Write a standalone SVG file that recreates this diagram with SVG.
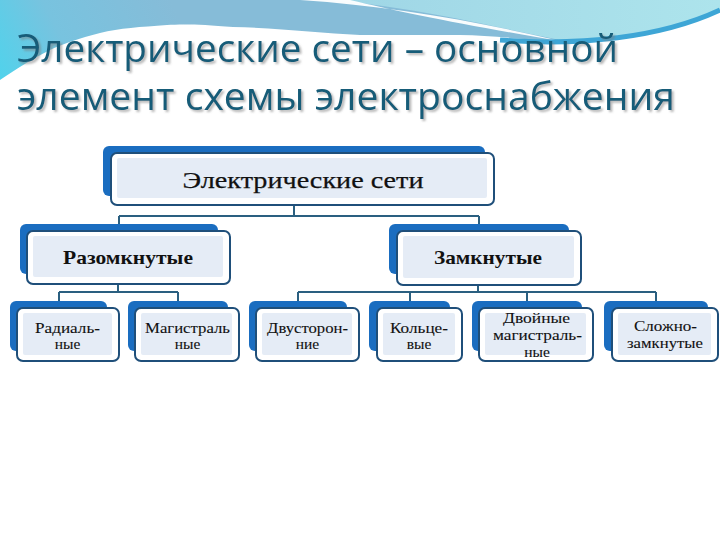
<svg xmlns="http://www.w3.org/2000/svg" width="720" height="540" viewBox="0 0 720 540">
  <defs>
    <linearGradient id="bgBlue" gradientUnits="userSpaceOnUse" x1="0" y1="85" x2="170" y2="0">
      <stop offset="0" stop-color="#4fd3ec"/>
      <stop offset="0.4" stop-color="#78c3df"/>
      <stop offset="1" stop-color="#86bcd8"/>
    </linearGradient>
    <linearGradient id="bgCyan" gradientUnits="userSpaceOnUse" x1="340" y1="0" x2="720" y2="0">
      <stop offset="0" stop-color="#9fd6e6"/>
      <stop offset="1" stop-color="#ade4ec"/>
    </linearGradient>
    <filter id="shadow" x="-5%" y="-20%" width="110%" height="150%">
      <feDropShadow dx="2" dy="2" stdDeviation="1" flood-color="#7a7a7a" flood-opacity="0.55"/>
    </filter>
    <style>
      .title { font-family: "Open Sans", "Noto Sans", "DejaVu Sans", sans-serif; font-size: 38px; fill: #165c78; }
      .back { fill: #1a6dc0; }
      .front { fill: #ffffff; stroke: #1f4f7a; stroke-width: 2; }
      .inner { fill: #e5ecf6; }
      .lbl { font-family: "Liberation Serif", "DejaVu Serif", serif; fill: #111111; text-anchor: middle; }
      .l1 { font-size: 24px; stroke: #111111; stroke-width: 0.25; }
      .l2 { font-size: 19px; font-weight: bold; }
      .l3 { font-size: 15.5px; stroke: #111111; stroke-width: 0.1; }
      .conn { fill: none; stroke: #2a5f80; stroke-width: 2; }
    </style>
  </defs>

  <!-- background -->
  <rect x="0" y="0" width="720" height="540" fill="#ffffff"/>
  <path d="M0,0 H720 V12 C680,28 620,40 560,40 C520,40 490,35 460,35 C420,35 390,35 360,35 C320,33 280,28 233,27 C200,24 180,24 167,25 C140,27 120,28 100,33 C80,38 60,45 50,50 C30,60 15,70 0,80 Z" fill="url(#bgBlue)"/>
  <path d="M330,0 H720 V12 C680,28 620,40 560,40 C490,26 420,8 330,0 Z" fill="url(#bgCyan)"/>
  <path d="M300,0 C390,6 470,20 560,41 C470,26 400,12 350,0 Z" fill="#ffffff" opacity="0.95"/>
  <path d="M500,40 C580,46 660,38 720,10" fill="none" stroke="#3ea6d6" stroke-width="5"/>

  <!-- title -->
  <g filter="url(#shadow)">
    <text class="title" x="17" y="62" textLength="601" lengthAdjust="spacingAndGlyphs">Электрические сети – основной</text>
    <text class="title" x="17" y="110" textLength="658" lengthAdjust="spacingAndGlyphs">элемент схемы электроснабжения</text>
  </g>

  <!-- connectors -->
  <g id="connectors">
    <path class="conn" d="M294,206 V216 M119,216 H479 M119,216 V224 M479,216 V224"/>
    <path class="conn" d="M118,285 V292 M59,292 H178 M59,292 V301 M178,292 V301"/>
    <path class="conn" d="M478,286 V292 M298,292 H656 M298,292 V301 M410,292 V301 M527,292 V301 M656,292 V301"/>
  </g>

  <!-- level 1 -->
  <g id="node-electric-networks">
    <rect class="back" x="103" y="146" width="382" height="50" rx="6"/>
    <rect class="front" x="111" y="153" width="383" height="52" rx="6"/>
    <rect class="inner" x="117" y="158" width="370" height="40" rx="2"/>
    <text class="lbl l1" x="303" y="188" textLength="241" lengthAdjust="spacingAndGlyphs">Электрические сети</text>
  </g>

  <!-- level 2 -->
  <g id="node-open">
    <rect class="back" x="20" y="224" width="198" height="50" rx="6"/>
    <rect class="front" x="27" y="231" width="203" height="53" rx="6"/>
    <rect class="inner" x="33" y="236" width="190" height="41" rx="2"/>
    <text class="lbl l2" x="128" y="264" textLength="130" lengthAdjust="spacingAndGlyphs">Разомкнутые</text>
  </g>
  <g id="node-closed">
    <rect class="back" x="389" y="224" width="180" height="50" rx="6"/>
    <rect class="front" x="397" y="231" width="184" height="54" rx="6"/>
    <rect class="inner" x="403" y="236" width="171" height="42" rx="2"/>
    <text class="lbl l2" x="488" y="264" textLength="108" lengthAdjust="spacingAndGlyphs">Замкнутые</text>
  </g>

  <!-- level 3 -->
  <g id="node-radial">
    <rect class="back" x="10" y="301" width="97" height="50" rx="6"/>
    <rect class="front" x="17" y="308" width="102" height="53" rx="6"/>
    <rect class="inner" x="23" y="313" width="89" height="42" rx="2"/>
    <text class="lbl l3" x="67.5" y="333" textLength="65" lengthAdjust="spacingAndGlyphs">Радиаль-</text>
    <text class="lbl l3" x="67.5" y="349">ные</text>
  </g>
  <g id="node-trunk">
    <rect class="back" x="128" y="301" width="100" height="50" rx="6"/>
    <rect class="front" x="135" y="308" width="104" height="53" rx="6"/>
    <rect class="inner" x="141" y="313" width="91" height="42" rx="2"/>
    <text class="lbl l3" x="187.5" y="333" textLength="85" lengthAdjust="spacingAndGlyphs">Магистраль</text>
    <text class="lbl l3" x="187.5" y="349">ные</text>
  </g>
  <g id="node-two-sided">
    <rect class="back" x="249" y="301" width="98" height="50" rx="6"/>
    <rect class="front" x="256" y="308" width="103" height="53" rx="6"/>
    <rect class="inner" x="262" y="313" width="90" height="42" rx="2"/>
    <text class="lbl l3" x="307.5" y="333" textLength="81" lengthAdjust="spacingAndGlyphs">Двусторон-</text>
    <text class="lbl l3" x="307.5" y="349">ние</text>
  </g>
  <g id="node-ring">
    <rect class="back" x="369" y="301" width="81" height="50" rx="6"/>
    <rect class="front" x="377" y="308" width="85" height="53" rx="6"/>
    <rect class="inner" x="383" y="313" width="72" height="42" rx="2"/>
    <text class="lbl l3" x="419" y="333" textLength="58" lengthAdjust="spacingAndGlyphs">Кольце-</text>
    <text class="lbl l3" x="419" y="349">вые</text>
  </g>
  <g id="node-double-trunk">
    <rect class="back" x="472" y="301" width="110" height="50" rx="6"/>
    <rect class="front" x="479" y="308" width="114" height="53" rx="6"/>
    <rect class="inner" x="485" y="313" width="101" height="42" rx="2"/>
    <text class="lbl l3" x="536.5" y="323" textLength="67" lengthAdjust="spacingAndGlyphs">Двойные</text>
    <text class="lbl l3" x="537.5" y="340" textLength="89" lengthAdjust="spacingAndGlyphs">магистраль-</text>
    <text class="lbl l3" x="537" y="357">ные</text>
  </g>
  <g id="node-complex-closed">
    <rect class="back" x="604" y="301" width="104" height="50" rx="6"/>
    <rect class="front" x="612" y="308" width="106" height="53" rx="6"/>
    <rect class="inner" x="618" y="313" width="93" height="42" rx="2"/>
    <text class="lbl l3" x="665.5" y="331" textLength="63" lengthAdjust="spacingAndGlyphs">Сложно-</text>
    <text class="lbl l3" x="665" y="348" textLength="76" lengthAdjust="spacingAndGlyphs">замкнутые</text>
  </g>
</svg>
